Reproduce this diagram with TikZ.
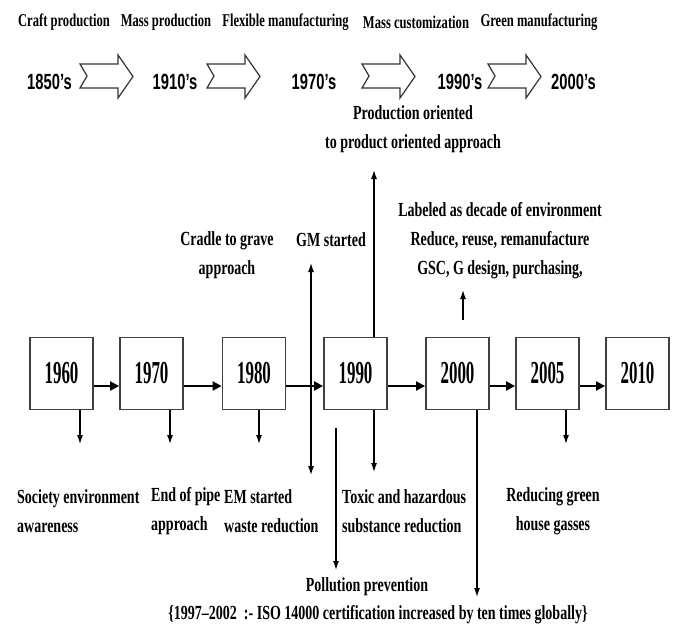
\documentclass[tikz,border=0pt]{standalone}
\usepackage{fontspec}
\setmainfont{Liberation Serif}[FakeStretch=0.7]
\newfontfamily\decadefont{Liberation Sans}[FakeStretch=0.67]
\newfontfamily\boxfont{Liberation Serif}[FakeStretch=0.53]
\usetikzlibrary{positioning,arrows.meta}
\tikzset{
    node distance=90pt, % spacing of the year boxes
    >={Latex[length=9pt,width=6pt]},
    }

\begin{document}
\begin{tikzpicture}[x=1pt,y=-1pt,
yearbox/.style={rectangle, draw=black!75, line width=1.8pt, minimum width=63pt, minimum height=72pt, font=\boxfont\bfseries\fontsize{32}{32}\selectfont},
era/.style={inner sep=0pt, font=\bfseries\fontsize{18}{22}\selectfont},
decade/.style={inner sep=0pt, font=\decadefont\bfseries\fontsize{22}{22}\selectfont},
note/.style={inner sep=0pt, align=center, font=\bfseries\fontsize{20}{29}\selectfont},
leftnote/.style={note, align=left, anchor=west},
link/.style={line width=2pt, -{Triangle[length=9pt,width=9pt]}},
pointer/.style={line width=1.2pt, ->},
bigarrow/.style={draw=black!80, line width=1.2pt, fill=white},
]
\useasboundingbox (0,0) rectangle (674,627);

% eras and decades
\node[era] (craft) at (64,22) {Craft production};
\node[era] (massprod) at (166,22) {Mass production};
\node[era] (flexible) at (285.5,22) {Flexible manufacturing};
\node[era] (masscust) at (416,22) {Mass customization};
\node[era] (greenman) at (539,22) {Green manufacturing};

\node[decade] (d1850) at (49.5,82) {1850’s};
\node[decade] (d1910) at (175,82) {1910’s};
\node[decade] (d1970) at (314,82) {1970’s};
\node[decade] (d1990) at (460,82) {1990’s};
\node[decade] (d2000) at (573.5,82) {2000’s};

\foreach \x in {80,207,362,488}
  \draw[bigarrow] (\x,64) -- ++(38,0) -- ++(0,-9) -- ++(15,21.5) -- ++(-15,21.5) -- ++(0,-10) -- ++(-38,0) -- ++(7,-12) -- cycle;

% year boxes
\node[yearbox] (b1960) at (61.5,373.5) {1960};
\node[yearbox] (b1970) [right of=b1960] {1970};
\node[yearbox, node distance=102.5pt] (b1980) [right of=b1970] {1980};
\node[yearbox, node distance=101.5pt] (b1990) [right of=b1980] {1990};
\node[yearbox, node distance=102pt] (b2000) [right of=b1990] {2000};
\node[yearbox] (b2005) [right of=b2000] {2005};
\node[yearbox] (b2010) [right of=b2005] {2010};

\foreach \a/\b in {b1960/b1970, b1970/b1980, b1980/b1990, b1990/b2000, b2000/b2005, b2005/b2010}
  \draw[link] ([yshift=-12.5pt]\a.east) -- ([yshift=-12.5pt]\b.west);

% notes
\node[note] (prodnote) at (413,129) {Production oriented\\to product oriented approach};
\node[note] (cradle) at (227,255) {Cradle to grave\\approach};
\node[note] (gmnote) at (331,240) {GM started};
\node[note] (decadenote) at (500,240.5) {Labeled as decade of environment\\Reduce, reuse, remanufacture\\GSC, G design, purchasing,};
\node[leftnote] (society) at (17,511) {Society environment\\awareness};
\node[leftnote] (endpipe) at (151,511) {End of pipe\\approach};
\node[leftnote] (emnote) at (224,511) {EM started\\waste reduction};
\node[leftnote] (toxic) at (342,511) {Toxic and hazardous\\substance reduction};
\node[note] (ghg) at (553,511) {Reducing green\\house gasses};
\node[note] (pollution) at (367,587) {Pollution prevention};
\node[note] (iso) at (378,615) {\{1997--2002\ \ :- ISO 14000 certification increased by ten times globally\}};

% arrow ends
\coordinate (e1960) at (80,444);
\coordinate (e1970) at (170,444);
\coordinate (e1980) at (259,444);
\coordinate (e1990) at (374,472);
\coordinate (e2000) at (477,597);
\coordinate (e2005) at (566,444);
\coordinate (up1990) at (374,170);
\coordinate (gmtop) at (311,263);
\coordinate (gmbot) at (311,475);
\coordinate (polltop) at (336,428);
\coordinate (pollbot) at (336,570);
\coordinate (gsctop) at (463,290);
\coordinate (gscbot) at (463,320);

\foreach \b in {1960,1970,1980,1990,2000,2005}
  \draw[pointer] (b\b.south -| e\b) -- (e\b);
\draw[pointer] (b1990.north -| up1990) -- (up1990);
\draw[pointer, <->] (gmtop) -- (gmbot);
\draw[pointer] (polltop) -- (pollbot);
\draw[pointer] (gscbot) -- (gsctop);
\end{tikzpicture}
\end{document}
